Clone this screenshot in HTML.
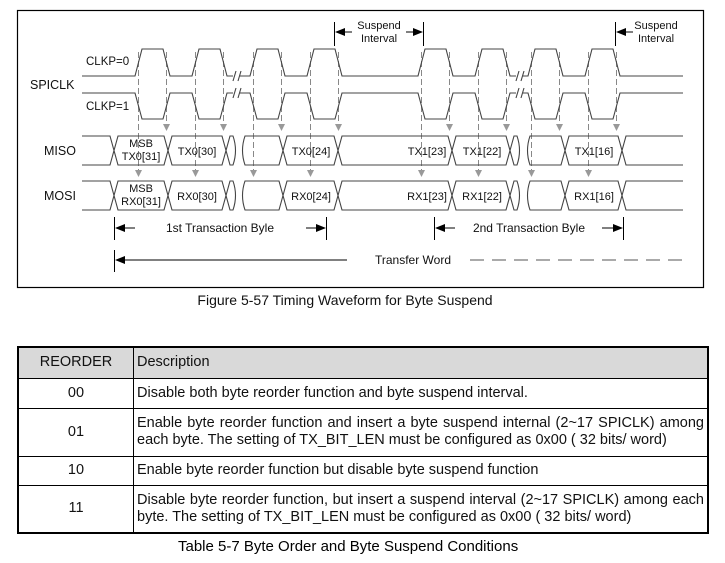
<!DOCTYPE html>
<html><head><meta charset="utf-8"><style>
body{margin:0;width:725px;height:563px;background:#fff;font-family:"Liberation Sans",Arial,sans-serif;overflow:hidden;position:relative}
svg{position:absolute;left:0;top:0}
.tbl{position:absolute;left:17px;top:346px;width:692px;border-collapse:collapse;border:2px solid #000;font-family:"Liberation Sans Narrow","Arial Narrow","Liberation Sans",sans-serif;font-size:14.5px;color:#111}
.tbl td{border:1px solid #000;padding:0 3px;line-height:17px}
.tbl td.c{text-align:center;width:108px}
.tbl td.d{text-align:justify;text-align-last:left}
.cap{position:absolute;font-size:15px;white-space:nowrap;font-family:"Liberation Sans Narrow","Arial Narrow","Liberation Sans",sans-serif}
</style></head><body>
<svg width="725" height="330" viewBox="0 0 725 330" font-family="Liberation Sans, Arial, sans-serif">
<rect x="17.5" y="10.5" width="686" height="277" fill="none" stroke="#000" stroke-width="1.2"/>
<g stroke="#888" stroke-dasharray="6,3" stroke-width="1">
<path d="M138.5,52V170M195.5,52V170M253.5,52V170M310.5,52V170M421.5,52V170M478.5,52V170M531.5,52V170M588.5,52V170"/>
<path d="M166.5,52V124M223.5,52V124M281.5,52V124M338.5,52V124M449.5,52V124M506.5,52V124M559.5,52V124M616.5,52V124"/>
</g>
<g fill="#999">
<path d="M135,170h7l-3.5,7z"/><path d="M192,170h7l-3.5,7z"/><path d="M250,170h7l-3.5,7z"/><path d="M307,170h7l-3.5,7z"/><path d="M418,170h7l-3.5,7z"/><path d="M475,170h7l-3.5,7z"/><path d="M528,170h7l-3.5,7z"/><path d="M585,170h7l-3.5,7z"/>
<path d="M163,124h7l-3.5,7z"/><path d="M220,124h7l-3.5,7z"/><path d="M278,124h7l-3.5,7z"/><path d="M335,124h7l-3.5,7z"/><path d="M446,124h7l-3.5,7z"/><path d="M503,124h7l-3.5,7z"/><path d="M556,124h7l-3.5,7z"/><path d="M613,124h7l-3.5,7z"/>
</g>
<g fill="none" stroke="#444" stroke-width="1.1">
<path d="M82,76 H135 L142,49 H163 L170,76 H192 L199,49 H220 L227,76 H233 M240,76 H250 L257,49 H278 L285,76 H307 L314,49 H335 L342,76 H418 L425,49 H446 L453,76 H475 L482,49 H503 L510,76 H516 M523,76 H528 L535,49 H556 L563,76 H585 L592,49 H613 L620,76 H683"/>
<path d="M82,93 H135 L142,119 H163 L170,93 H192 L199,119 H220 L227,93 H233 M240,93 H250 L257,119 H278 L285,93 H307 L314,119 H335 L342,93 H418 L425,119 H446 L453,93 H475 L482,119 H503 L510,93 H516 M523,93 H528 L535,119 H556 L563,93 H585 L592,119 H613 L620,93 H683"/>
<path d="M233,81L236,71M238,81L241,71M233,98L236,88M238,98L241,88M516,81L519,71M521,81L524,71M516,98L519,88M521,98L524,88"/>
<g id="bus">
<path d="M82,136 H110 L114,150.5 L110,165 H82"/>
<path d="M114,150.5 L118,136 H164 L168,150.5 L164,165 H118 Z"/>
<path d="M168,150.5 L172,136 H222 L226,150.5 L222,165 H172 Z"/>
<path d="M226,150.5 L230,136 H233 Q238,150.5 233,165 H230 Z"/>
<path d="M245,136 Q240,150.5 245,165 H279 L283,150.5 L279,136 Z"/>
<path d="M283,150.5 L287,136 H334 L338,150.5 L334,165 H287 Z"/>
<path d="M338,150.5 L342,136 H448 L452,150.5 L448,165 H342 Z"/>
<path d="M452,150.5 L456,136 H506 L510,150.5 L506,165 H456 Z"/>
<path d="M510,150.5 L514,136 H517 Q522,150.5 517,165 H514 Z"/>
<path d="M530,136 Q525,150.5 530,165 H561 L565,150.5 L561,136 Z"/>
<path d="M565,150.5 L569,136 H618 L622,150.5 L618,165 H569 Z"/>
<path d="M683,136 H626 L622,150.5 L626,165 H683"/>
</g>
<use href="#bus" transform="translate(0,45)"/>
</g>
<g stroke="#000" stroke-width="1" fill="none">
<path d="M334.5,22V46M423.5,22V46M615.5,22V46"/>
<path d="M114.5,217V240M326.5,217V240M434.5,217V240M623.5,217V240M114.5,250V272"/>
<path d="M124,228H135M316,228H306M444,228H455M613,228H602M124,260H347"/>
<path d="M470,260H683" stroke-dasharray="14,8" stroke="#555"/>
<path d="M344,32H352M414,32H406M625,32H633"/>
</g>
<g fill="#000">
<path d="M335,32l10,-4v8z"/><path d="M423,32l-10,-4v8z"/><path d="M616,32l10,-4v8z"/>
<path d="M115,228l10,-4v8z"/><path d="M326,228l-10,-4v8z"/><path d="M435,228l10,-4v8z"/><path d="M623,228l-10,-4v8z"/><path d="M115,260l10,-4v8z"/>
</g>
<g font-size="11.5" fill="#111">
<text x="86" y="65">CLKP=0</text>
<text x="86" y="110">CLKP=1</text>
<text x="30" y="89" font-size="12.5">SPICLK</text>
<text x="44" y="155" font-size="12.5">MISO</text>
<text x="44" y="200" font-size="12.5">MOSI</text>
<g text-anchor="middle" font-size="11">
<text x="141" y="147">MSB</text><text x="141" y="160">TX0[31]</text>
<text x="197" y="155">TX0[30]</text><text x="311" y="155">TX0[24]</text>
<text x="427" y="155">TX1[23]</text><text x="482" y="155">TX1[22]</text><text x="594" y="155">TX1[16]</text>
<text x="141" y="192">MSB</text><text x="141" y="205">RX0[31]</text>
<text x="197" y="200">RX0[30]</text><text x="311" y="200">RX0[24]</text>
<text x="427" y="200">RX1[23]</text><text x="482" y="200">RX1[22]</text><text x="594" y="200">RX1[16]</text>
<text x="379" y="29">Suspend</text><text x="379" y="42">Interval</text>
<text x="656" y="29">Suspend</text><text x="656" y="42">Interval</text>
</g>
<text x="220" y="232" text-anchor="middle" font-size="12">1st Transaction Byle</text>
<text x="529" y="232" text-anchor="middle" font-size="12">2nd Transaction Byle</text>
<text x="413" y="264" text-anchor="middle" font-size="12">Transfer Word</text>
</g>
<text x="345" y="305" text-anchor="middle" font-size="14" fill="#111">Figure 5-57 Timing Waveform for Byte Suspend</text>
</svg>
<table class="tbl">
<tr style="height:31px;background:#d9d9d9"><td class="c">REORDER</td><td>Description</td></tr>
<tr style="height:30px"><td class="c">00</td><td>Disable both byte reorder function and byte suspend interval.</td></tr>
<tr style="height:48px"><td class="c">01</td><td class="d">Enable byte reorder function and insert a byte suspend internal (2~17 SPICLK) among each byte. The setting of TX_BIT_LEN must be configured as 0x00 ( 32 bits/ word)</td></tr>
<tr style="height:29px"><td class="c">10</td><td>Enable byte reorder function but disable byte suspend function</td></tr>
<tr style="height:48px"><td class="c">11</td><td class="d">Disable byte reorder function, but insert a suspend interval (2~17 SPICLK) among each byte. The setting of TX_BIT_LEN must be configured as 0x00 ( 32 bits/ word)</td></tr>
</table>
<div class="cap" style="left:178px;top:538px">Table 5-7 Byte Order and Byte Suspend Conditions</div>
</body></html>
